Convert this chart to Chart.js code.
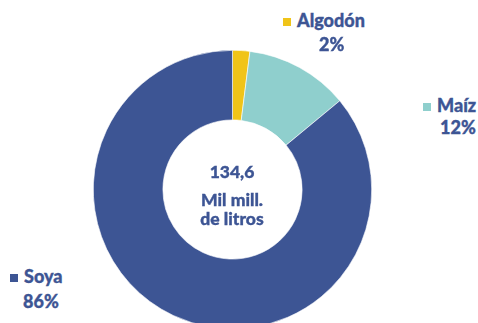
<!DOCTYPE html>
<html lang="es">
<head>
<meta charset="utf-8">
<script src="https://cdn.jsdelivr.net/npm/chart.js@4/dist/chart.umd.min.js"></script>
<style>
    html, body { margin: 0; padding: 0; background: #ffffff; overflow: hidden; }
    body { width: 478px; height: 323px; position: relative; font-family: "Lato", "Open Sans", sans-serif; }
    #contenedorGrafico { position: absolute; left: 93px; top: 50px; width: 279px; height: 279px; }
    .etiqueta { position: absolute; color: #3d5594; font-weight: 900; font-size: 18px; line-height: 20px; white-space: nowrap; -webkit-text-stroke: 0.35px #3d5594; }
    .cuadro { display: inline-block; width: 8px; height: 8px; margin-right: 6px; vertical-align: 1px; -webkit-text-stroke: 0; }
    .centro { position: absolute; left: 162px; width: 140px; text-align: center; color: #3d5594; font-weight: 900; font-size: 17.5px; line-height: 19px; -webkit-text-stroke: 0.35px #3d5594; }
</style>
</head>
<body>
<div id="contenedorGrafico"><canvas id="graficoAceite"></canvas></div>

<!-- Etiquetas de cada cultivo -->
<div class="etiqueta" style="left:283px; top:10px;"><span class="cuadro" style="background:#f0c419"></span>Algodón</div>
<div class="etiqueta" style="left:319px; top:34px;">2%</div>
<div class="etiqueta" style="left:423px; top:95px;"><span class="cuadro" style="background:#8fcfcd"></span>Maíz</div>
<div class="etiqueta" style="left:440px; top:117px;">12%</div>
<div class="etiqueta" style="left:10px; top:266px;"><span class="cuadro" style="background:#3d5594"></span>Soya</div>
<div class="etiqueta" style="left:23px; top:291px;">86%</div>

<!-- Texto del centro -->
<div class="centro" style="top:162px;">134,6</div>
<div class="centro" style="top:190px;">Mil mill.<br>de litros</div>

<script>
// Cultivos y su participación en la producción de aceite (%)
const cultivos = ['Algodón', 'Maíz', 'Soya'];
const porcentajes = [2, 12, 86];
const colores = ['#f0c419', '#8fcfcd', '#3d5594'];

const ctx = document.getElementById('graficoAceite').getContext('2d');

new Chart(ctx, {
    type: 'doughnut',
    data: {
        labels: cultivos,
        datasets: [{
            data: porcentajes,
            backgroundColor: colores,
            borderColor: '#ffffff',
            borderWidth: 0.6
        }]
    },
    options: {
        responsive: true,
        maintainAspectRatio: false,
        animation: false,
        cutout: '50%',
        layout: { padding: 0 },
        plugins: {
            legend: { display: false },
            tooltip: { enabled: false }
        }
    }
});
</script>
</body>
</html>
